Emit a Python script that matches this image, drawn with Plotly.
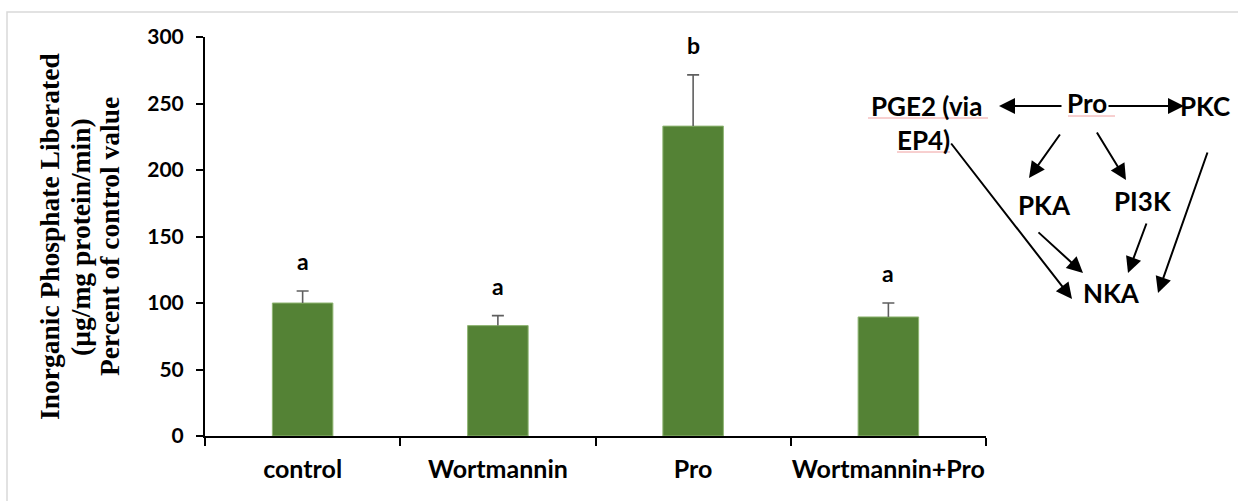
import plotly.graph_objects as go

categories = ["control", "Wortmannin", "Pro", "Wortmannin+Pro"]
values = [100, 83, 233, 89.5]
errors = [9, 7.5, 38.5, 10.5]
letters = ["a", "a", "b", "a"]
y_ticks = [0, 50, 100, 150, 200, 250, 300]

W, H = 1238, 501
L, R, T, B = 205, 986, 37, 436


def px(x):
    return (x - L) / (R - L)


def py(y):
    return (B - y) / (B - T)


err_color = "#5f5f5f"
fig = go.Figure()
fig.add_trace(go.Bar(
    x=categories, y=values, width=0.31,
    marker=dict(color="#548235", line=dict(color="#8fb573", width=1)),
))
# upper error stems (no caps)
fig.add_trace(go.Scatter(
    x=categories, y=values, mode="markers", marker=dict(size=1, opacity=0), hoverinfo="skip",
    error_y=dict(type="data", array=errors, arrayminus=[0] * 4, symmetric=False,
                 color=err_color, thickness=1.6, width=0),
))
# caps at the top of each error bar
tops = [v + e for v, e in zip(values, errors)]
fig.add_trace(go.Scatter(
    x=categories, y=tops, mode="markers", marker=dict(size=1, opacity=0), hoverinfo="skip",
    error_y=dict(type="data", array=[0] * 4, arrayminus=[0] * 4, symmetric=False,
                 color=err_color, thickness=1.6, width=6),
))

ann = []
for c, t, l in zip(categories, tops, letters):
    ann.append(dict(x=c, y=t, xref="x", yref="y", text=l,
                    showarrow=False, yanchor="middle", yshift=30,
                    font=dict(family="Lato", size=23, color="black", weight="bold")))

# y-axis title lines
title_lines = [("Inorganic Phosphate Liberated", 49), ("(µg/mg protein/min)", 80), ("Percent of control value", 109)]
for t, xc in title_lines:
    ann.append(dict(x=px(xc), y=py(237), xref="paper", yref="paper", text=t,
                    textangle=-90, showarrow=False, xanchor="center", yanchor="middle",
                    font=dict(family="Liberation Serif", size=27.5, color="black", weight="bold")))

# diagram labels
labels = [("PGE2 (via", 926, 106), ("EP4)", 923, 140), ("Pro", 1087, 103), ("PKC", 1205, 106),
          ("PKA", 1044, 205), ("PI3K", 1143, 201), ("NKA", 1111, 293)]
for t, xc, yc in labels:
    ann.append(dict(x=px(xc), y=py(yc), xref="paper", yref="paper", text=t,
                    showarrow=False, xanchor="center", yanchor="middle",
                    font=dict(family="Lato", size=26, color="black", weight="bold")))

arrows = [((1063, 106), (999, 106)), ((1107, 106), (1184, 106)), ((1061, 133), (1029, 178)),
          ((1096, 131), (1126, 180)), ((950, 142), (1072, 299)), ((1037, 231), (1083, 273)),
          ((1147, 222), (1128, 273)), ((1208, 151), (1158, 293))]
for (tx, ty), (hx, hy) in arrows:
    ann.append(dict(x=px(hx), y=py(hy), xref="paper", yref="paper", ax=tx - hx, ay=ty - hy,
                    axref="pixel", ayref="pixel", showarrow=True, arrowhead=2, arrowsize=1.6,
                    arrowwidth=2, arrowcolor="black", text="", standoff=0))

shapes = [dict(type="rect", xref="paper", yref="paper", x0=px(7), x1=px(1300), y0=py(12), y1=py(560),
               line=dict(color="#d9d9d9", width=1.5), layer="below")]
for x0, x1, y in [(868, 988, 118), (897, 950, 152), (1068, 1115, 116)]:
    shapes.append(dict(type="line", xref="paper", yref="paper", x0=px(x0), x1=px(x1), y0=py(y), y1=py(y),
                       line=dict(color="#f0a0a0", width=1)))

fig.update_layout(
    width=W, height=H, margin=dict(l=L, r=W - R, t=T, b=H - B, autoexpand=False),
    paper_bgcolor="white", plot_bgcolor="white", showlegend=False,
    annotations=ann, shapes=shapes,
    xaxis=dict(type="category", tickson="boundaries", ticks="outside", ticklen=8, tickwidth=1.5,
               tickcolor="black", showline=True, linecolor="black", linewidth=2, tickangle=0,
               tickfont=dict(family="Lato", size=25, color="black", weight="bold"), showgrid=False,
               range=[-0.5, 3.5], ticklabelstandoff=10, automargin=False),
    yaxis=dict(range=[0, 300], tickvals=y_ticks, ticks="outside", ticklen=7, tickwidth=1.5,
               tickcolor="black", showline=True, linecolor="black", linewidth=2, showgrid=False,
               zeroline=False, tickfont=dict(family="Lato", size=21, color="black", weight="bold"),
               ticklabelstandoff=8, automargin=False),
)
fig.write_html("out.html")
